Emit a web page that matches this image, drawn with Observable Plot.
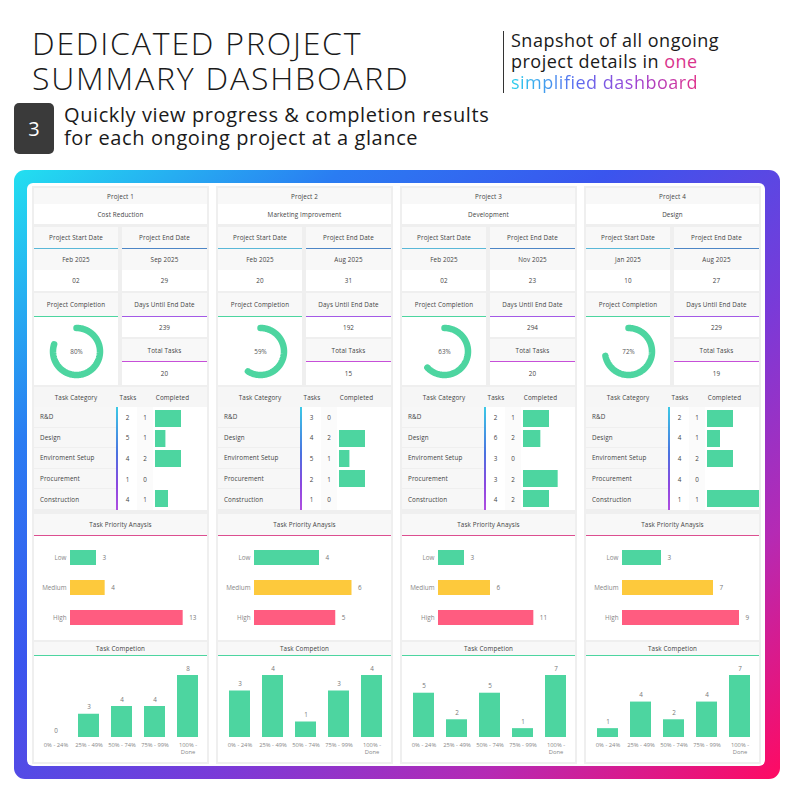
<!DOCTYPE html>
<html><head><meta charset="utf-8">
<script src="https://cdn.jsdelivr.net/npm/d3@7"></script>
<script src="https://cdn.jsdelivr.net/npm/@observablehq/plot@0.6"></script>
<style>
body{margin:0;width:794px;height:794px;position:relative;overflow:hidden;background:#fff;font-family:"Open Sans",sans-serif;color:#1a1a1a}
.abs{position:absolute}
.ln{position:absolute;left:0;white-space:nowrap;overflow:visible}
.cell{position:absolute;display:flex;align-items:center;justify-content:center;font-size:6.3px;letter-spacing:0.12px;color:#444;box-sizing:border-box;white-space:nowrap}
.holder{position:absolute;overflow:visible}
.holder svg{display:block;max-width:none !important;height:auto}
</style></head><body>
<div class="abs" style="left:32px;top:25px;width:460px;height:70px;font-size:32px;line-height:35px;letter-spacing:1.8px;font-weight:300">
  <div class="ln" style="top:0;height:35px">DEDICATED PROJECT</div>
  <div class="ln" style="top:35px;height:35px">SUMMARY DASHBOARD</div>
</div>
<div class="abs" style="left:503px;top:31px;width:1px;height:62px;background:#333"></div>
<div class="abs" style="left:511px;top:30px;width:260px;height:63px;font-size:18px;line-height:21px;letter-spacing:0.5px;color:#1a1a1a">
  <div class="ln" style="top:0;height:21px">Snapshot of all ongoing</div>
  <div class="ln" style="top:21px;height:21px">project details in <span style="color:#d9338c">one</span></div>
  <div class="ln" style="top:42px;height:21px"><span style="background:linear-gradient(90deg,#2ad0ec,#5a6cf0 35%,#9b45d6 65%,#e0308a);-webkit-background-clip:text;background-clip:text;color:transparent">simplified dashboard</span></div>
</div>
<div class="abs" style="left:14px;top:103px;width:40px;height:51px;background:#3a3a3a;border-radius:5px;color:#fff;font-size:20px;display:flex;align-items:center;justify-content:center">3</div>
<div class="abs" style="left:64px;top:103px;width:440px;height:46px;font-size:20px;line-height:23px;letter-spacing:0.6px">
  <div class="ln" style="top:0;height:23px">Quickly view progress &amp; completion results</div>
  <div class="ln" style="top:23px;height:23px">for each ongoing project at a glance</div>
</div>
<div id="frame" class="abs" style="left:14px;top:170px;width:766px;height:609px;border-radius:11px;background:linear-gradient(140deg,#22e0f0 0%,#2a7cf2 22%,#3a55ee 40%,#7a3ad8 62%,#b52ab4 80%,#ff0a62 100%)">
  <div id="inner" class="abs" style="left:13px;top:13px;width:738px;height:583px;background:#fff;border-radius:6px"></div>
</div>
<script>
const projectNames = ["Project 1","Project 2","Project 3","Project 4"];
const projectTypes = ["Cost Reduction","Marketing Improvement","Development","Design"];
const startMonths = ["Feb 2025","Feb 2025","Feb 2025","Jan 2025"];
const startDays = ["02","20","02","10"];
const endMonths = ["Sep 2025","Aug 2025","Nov 2025","Aug 2025"];
const endDays = ["29","31","23","27"];
const completionPct = [80,59,63,72];
const daysUntilEnd = [239,192,294,229];
const totalTasks = [20,15,20,19];
const categories = ["R&D","Design","Enviroment Setup","Procurement","Construction"];
const categoryTasks = [[2,5,4,1,4],[3,4,5,2,1],[2,6,3,3,4],[2,4,4,4,1]];
const categoryDone = [[1,1,2,0,1],[0,2,1,1,0],[1,2,0,2,2],[1,1,2,0,1]];
const priorityLevels = ["Low","Medium","High"];
const priorityValues = [[3,4,13],[4,6,5],[3,6,11],[3,7,9]];
const priorityAxisMax = [15,8,15,10];
const buckets = ["0% - 24%","25% - 49%","50% - 74%","75% - 99%","100% - Done"];
const bucketValues = [[0,3,4,4,8],[3,4,1,3,4],[5,2,5,1,7],[1,4,2,4,7]];

const GREEN="#4dd5a0", YELLOW="#fdc93c", PINK="#ff5c80";
const FONT='"Open Sans",sans-serif';
const inner=document.getElementById("inner");

function box(parent,x,y,w,h,text,o={}){
  const d=document.createElement("div");d.className="cell";
  Object.assign(d.style,{left:x+"px",top:y+"px",width:w+"px",height:h+"px",background:o.bg||"#fff"});
  if(o.line) d.style.borderBottom="1.5px solid "+o.line;
  if(o.left){d.style.justifyContent="flex-start";d.style.paddingLeft=o.left+"px";}
  if(text!=null) d.textContent=text;
  parent.appendChild(d);return d;
}
function holder(parent,x,y,w,h,svg){
  const d=document.createElement("div");d.className="holder";
  Object.assign(d.style,{left:x+"px",top:y+"px",width:w+"px",height:h+"px"});
  d.appendChild(svg);parent.appendChild(d);return d;
}

projectNames.forEach((name,i)=>{
  const col=document.createElement("div");col.className="abs";
  Object.assign(col.style,{left:(5+i*184)+"px",top:"3px",width:"177px",height:"578px",background:"#efefef"});
  inner.appendChild(col);
  box(col,2,2,173,16,name,{bg:"#f8f8f8"});
  box(col,2,18,173,20,projectTypes[i]);
  box(col,2,41,84,22,"Project Start Date",{bg:"#f8f8f8",line:"#5ab8d8"});
  box(col,90,41,85,22,"Project End Date",{bg:"#f8f8f8",line:"#4d86c6"});
  box(col,2,63,84,21,startMonths[i],{bg:"#f8f8f8"});
  box(col,90,63,85,21,endMonths[i],{bg:"#f8f8f8"});
  box(col,2,84,84,21,startDays[i]);
  box(col,90,84,85,21,endDays[i]);
  box(col,2,107,84,24,"Project Completion",{bg:"#f8f8f8",line:GREEN});
  box(col,2,131,84,68,null);
  box(col,90,107,85,24,"Days Until End Date",{bg:"#f8f8f8",line:"#a35ae6"});
  box(col,90,131,85,20,String(daysUntilEnd[i]));
  box(col,90,153,85,23,"Total Tasks",{bg:"#f8f8f8",line:"#c64fd8"});
  box(col,90,176,85,23,String(totalTasks[i]));
  // donut
  const pct=completionPct[i], N=120;
  const arc=d3.range(N+1).map(k=>{const a=k/N*pct/100*2*Math.PI;return {x:Math.sin(a),y:Math.cos(a)};});
  holder(col,2,131,84,68,Plot.plot({width:84,height:68,margin:0,
    x:{domain:[-42/23.5,42/23.5],axis:null},y:{domain:[-34/23.5,34/23.5],axis:null},
    style:{background:"transparent",fontFamily:FONT},
    marks:[Plot.line(arc,{x:"x",y:"y",stroke:GREEN,strokeWidth:6.5}),
           Plot.text([pct],{x:()=>0,y:()=>0,text:d=>d+"%",fill:"#555",fontSize:6.3})]}));
  // table
  box(col,2,201,173,20,null,{bg:"#f6f6f6"});
  box(col,2,201,84,20,"Task Category",{bg:"transparent"});
  box(col,86,201,20,20,"Tasks",{bg:"transparent"});
  box(col,118,201,45,20,"Completed",{bg:"transparent"});
  const rowH=20.6;
  categories.forEach((c,r)=>{
    const y=221+r*rowH;
    box(col,2,y,81.5,rowH-1,c,{bg:"#f7f7f7",left:6});
    box(col,86,y,19,rowH,String(categoryTasks[i][r]));
    box(col,105,y,16,rowH,String(categoryDone[i][r]),{bg:"#fbfbfb"});
  });
  box(col,121,221,54,5*rowH,null);
  const vl=document.createElement("div");vl.className="abs";
  Object.assign(vl.style,{left:"83.5px",top:"221px",width:"2px",height:(5*rowH)+"px",background:"linear-gradient(180deg,#3cc9e6,#4a72e0 45%,#8a48e0 75%,#b04ee0)"});
  col.appendChild(vl);
  const tbl=categories.map((c,r)=>({c,ratio:categoryDone[i][r]/categoryTasks[i][r]}));
  holder(col,123,221,52,5*rowH,Plot.plot({width:52,height:5*rowH,margin:0,
    x:{domain:[0,1],axis:null},y:{domain:categories,paddingInner:0.13,paddingOuter:0.065,axis:null},
    style:{background:"transparent"},
    marks:[Plot.barX(tbl,{x:"ratio",y:"c",fill:GREEN})]}));
  // priority
  box(col,2,328,173,22,"Task Priority Anaysis",{bg:"#f8f8f8",line:"#dc4f90"});
  box(col,2,350,173,104,null);
  const pdata=priorityLevels.map((l,k)=>({l,v:priorityValues[i][k]}));
  holder(col,2,350,173,104,Plot.plot({width:173,height:104,marginLeft:36,marginRight:7,marginTop:6,marginBottom:7,
    x:{domain:[0,priorityAxisMax[i]],axis:null},
    y:{domain:priorityLevels,paddingInner:0.5,paddingOuter:0.25,label:null,tickSize:0,tickPadding:4},
    color:{domain:priorityLevels,range:[GREEN,YELLOW,PINK]},
    style:{background:"transparent",fontFamily:FONT,fontSize:"6.3px",color:"#888"},
    marks:[Plot.barX(pdata,{x:"v",y:"l",fill:"l"}),
           Plot.text(pdata,{x:"v",y:"l",text:"v",dx:6,textAnchor:"start",fill:"#777",fontSize:6.3})]}));
  // completion chart
  box(col,2,456,173,14,"Task Competion",{bg:"#f8f8f8",line:GREEN});
  box(col,2,470,173,106,null);
  const cdata=buckets.map((b,k)=>({b,v:bucketValues[i][k]}));
  holder(col,2,470,173,106,Plot.plot({width:173,height:106,marginLeft:4,marginRight:1,marginTop:19,marginBottom:25,
    x:{domain:buckets,paddingInner:0.35,paddingOuter:0.175},
    y:{domain:[0,d3.max(bucketValues[i])],axis:null},
    style:{background:"transparent",fontFamily:FONT,fontSize:"5.8px",color:"#888"},
    marks:[Plot.barY(cdata,{x:"b",y:"v",fill:GREEN}),
           Plot.axisX({tickSize:0,tickPadding:4,label:null,lineHeight:1.3,fontSize:5.8,fill:"#888",tickFormat:d=>d.replace("- Done","-\nDone")}),
           Plot.text(cdata,{x:"b",y:"v",text:"v",dy:-7,fill:"#777",fontSize:6.3})]}));
});
</script>
</body></html>
